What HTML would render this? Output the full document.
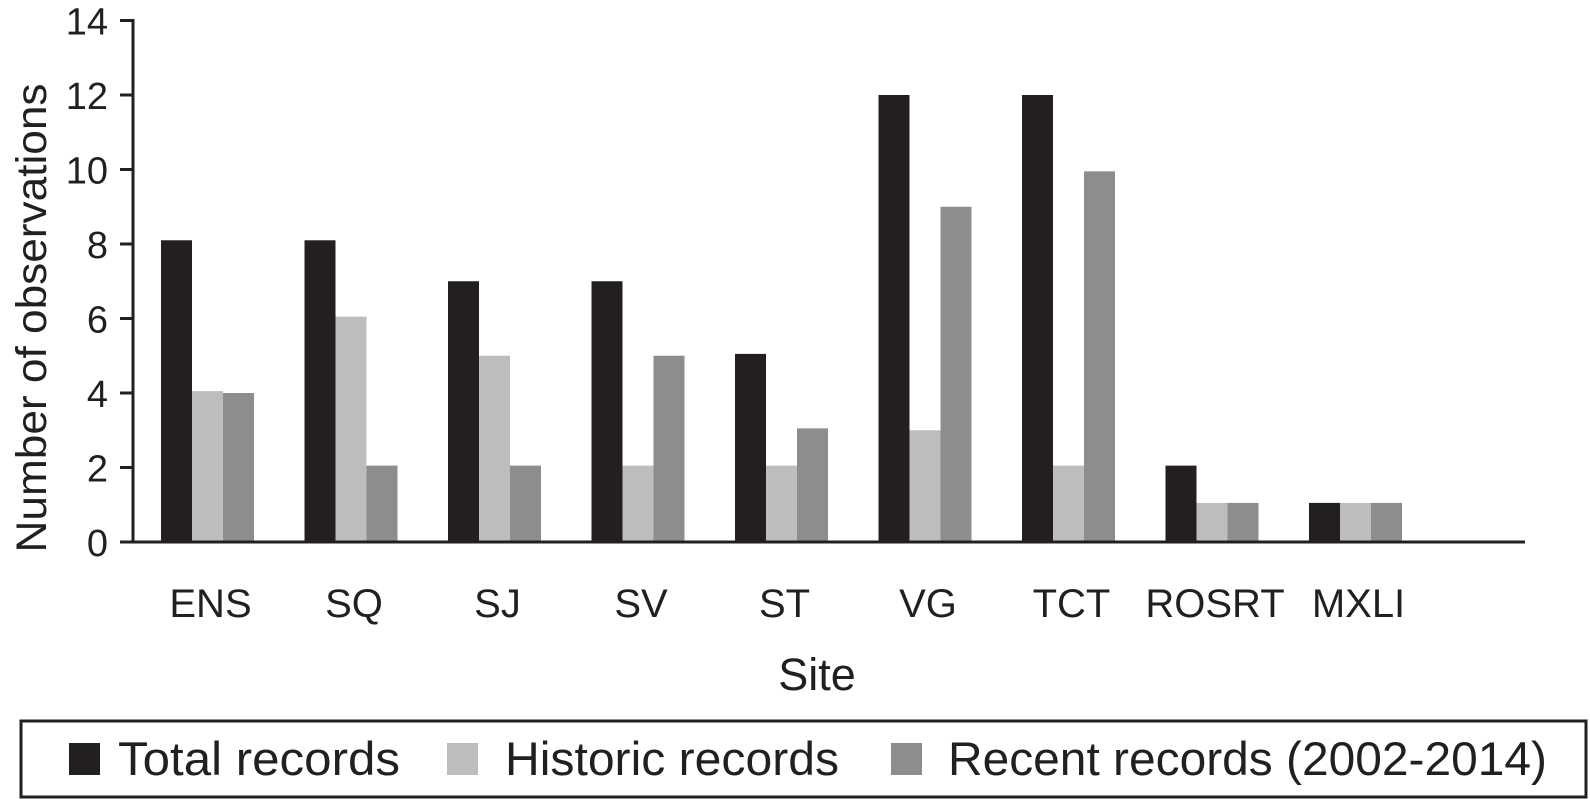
<!DOCTYPE html>
<html><head><meta charset="utf-8"><style>
body{margin:0;background:#fff;}
svg{display:block;font-family:"Liberation Sans",Arial,sans-serif;}
</style></head><body>
<svg id="chart" width="1590" height="799">
<g id="bars"></g>
<g id="axes"></g>
<text x="817" y="690" font-size="45" text-anchor="middle" fill="#231f20">Site</text>
<text transform="translate(46,318) rotate(-90)" font-size="43" text-anchor="middle" fill="#231f20" textLength="469" lengthAdjust="spacingAndGlyphs">Number of observations</text>
<g>
<rect x="21" y="721" width="1565" height="76" fill="none" stroke="#231f20" stroke-width="3"/>
<g><rect x="69" y="743" width="31" height="32" fill="#231f20"/><text x="118" y="775" font-size="47" fill="#231f20" textLength="282" lengthAdjust="spacingAndGlyphs">Total records</text></g>
<g><rect x="447" y="743" width="31" height="32" fill="#bcbdbf"/><text x="505" y="775" font-size="47" fill="#231f20" textLength="334" lengthAdjust="spacingAndGlyphs">Historic records</text></g>
<g><rect x="891" y="743" width="31" height="32" fill="#8c8d8f"/><text x="948" y="775" font-size="47" fill="#231f20" textLength="599" lengthAdjust="spacingAndGlyphs">Recent records (2002-2014)</text></g>
</g>
</svg>
<script>
const categories=["ENS","SQ","SJ","SV","ST","VG","TCT","ROSRT","MXLI"];
const totalRecords=[8.1,8.1,7,7,5.05,12,12,2.05,1.05];
const historicRecords=[4.05,6.05,5,2.05,2.05,3,2.05,1.05,1.05];
const recentRecords=[4,2.05,2.05,5,3.05,9,9.95,1.05,1.05];
const yTicks=[0,2,4,6,8,10,12,14];
const NS="http://www.w3.org/2000/svg";
const y=v=>542-v*37.25;
const x=i=>161+i*143.5;
const bw=31;
const bars=document.getElementById('bars'),axes=document.getElementById('axes');
const series=[[totalRecords,"#231f20","total"],[historicRecords,"#bcbdbf","historic"],[recentRecords,"#8c8d8f","recent"]];
categories.forEach((c,i)=>{
  series.forEach((s,k)=>{
    const r=document.createElementNS(NS,'rect');
    r.setAttribute('x',x(i)+k*bw);r.setAttribute('y',y(s[0][i]));
    r.setAttribute('width',bw);r.setAttribute('height',542-y(s[0][i]));
    r.setAttribute('fill',s[1]);
    
    
    bars.appendChild(r);
  });
  const t=document.createElementNS(NS,'text');
  t.setAttribute('x',x(i)+bw*1.5+3);t.setAttribute('y',617);
  t.setAttribute('font-size','40');t.setAttribute('text-anchor','middle');t.setAttribute('fill','#231f20');
  t.textContent=c;
  
  
  axes.appendChild(t);
});
function line(x1,y1,x2,y2,n){const l=document.createElementNS(NS,'line');l.setAttribute('x1',x1);l.setAttribute('y1',y1);l.setAttribute('x2',x2);l.setAttribute('y2',y2);l.setAttribute('stroke','#231f20');l.setAttribute('stroke-width','3');


axes.appendChild(l);}
line(133,19,133,543,'y-axis');
line(132,542,1525,542,'x-axis');
yTicks.forEach(v=>{
  line(120,y(v),133,y(v),'y-tick');
  const t=document.createElementNS(NS,'text');
  t.setAttribute('x',108);t.setAttribute('y',y(v)+14);
  t.setAttribute('font-size','38');t.setAttribute('text-anchor','end');t.setAttribute('fill','#231f20');
  t.textContent=v;
  
  
  axes.appendChild(t);
});
</script>
</body></html>
